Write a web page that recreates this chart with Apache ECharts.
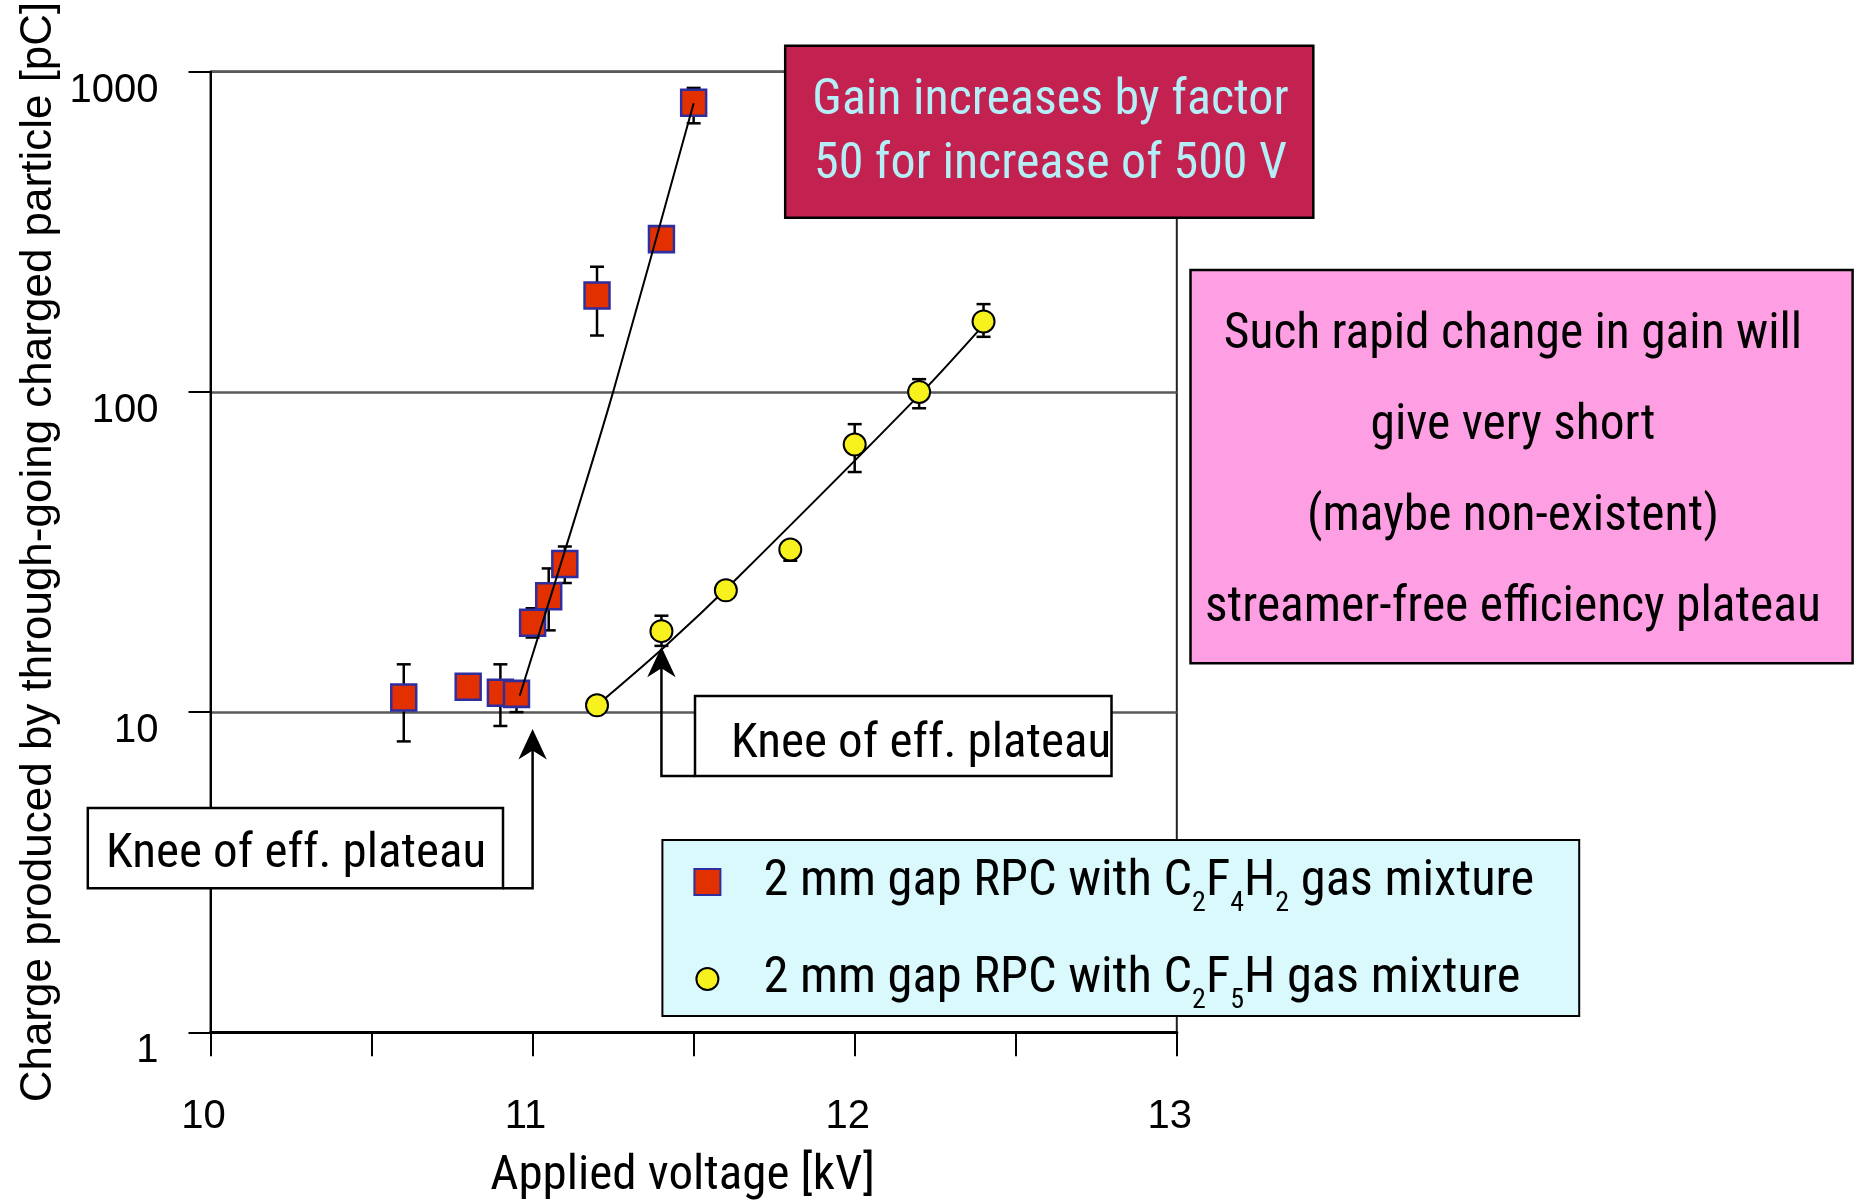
<!DOCTYPE html>
<html>
<head>
<meta charset="utf-8">
<script src="https://cdn.jsdelivr.net/npm/echarts@6/dist/echarts.min.js"></script>
<style>
  html, body { margin: 0; padding: 0; background: #fff; }
  #chart { width: 1855px; height: 1203px; }
</style>
</head>
<body>
<div id="chart"></div>
<script>
// C2F4H2 chamber: applied voltage [kV], mean charge [pC] and error-bar limits
const voltsA   = [10.6, 10.8, 10.9, 10.95, 11.0, 11.05, 11.1, 11.2, 11.4, 11.5];
const chargeA  = [11.1, 12.0, 11.5, 11.4, 19.0, 23.0, 29.0, 200, 300, 800];
const errLowA  = [8.1, null, 9.05, 10.0, 17.1, 18.0, 25.3, 150, null, 690];
const errHighA = [14.1, null, 14.1, 12.3, 21.1, 28.1, 32.9, 246, null, 890];

// C2F5H chamber
const voltsB   = [11.2, 11.4, 11.6, 11.8, 12.0, 12.2, 12.4];
const chargeB  = [10.5, 17.9, 24.0, 32.2, 68.5, 100, 166];
const errLowB  = [null, 16.1, null, 29.7, 56.2, 88.9, 148.6];
const errHighB = [null, 20.0, null, 34.0, 79.3, 109.6, 188];

// guide curves drawn through each data set
const fitVoltsA  = [10.96, 11.12, 11.25, 11.5];
const fitChargeA = [11.25, 37, 100, 797];
const fitVoltsB  = [11.19, 11.41, 11.63, 12.21, 12.41];
const fitChargeB = [10.3, 16.0, 25.9, 100, 166];

// knee of the efficiency plateau (arrow tips)
const kneeVolts  = [11.0, 11.4];
const kneeCharge = [8.85, 16.0];

// axis tick labels
const xTickLabels = ['10', '11', '12', '13'];
const yTickLabels = ['1', '10', '100', '1000'];

// legend entries
const seriesNames = ['2 mm gap RPC with C2F4H2 gas mixture', '2 mm gap RPC with C2F5H gas mixture'];
const legendRich  = ['2 mm gap RPC with C{s|2}F{s|4}H{s|2} gas mixture', '2 mm gap RPC with C{s|2}F{s|5}H gas mixture'];

const FONT_NARROW = "'Roboto Condensed', 'Liberation Sans', sans-serif";
const FONT_REG = "'Liberation Sans', Arial, Helvetica, sans-serif";

const pairs = (xs, ys) => xs.map((x, i) => [x, ys[i]]);
const bars = (xs, lo, hi) => xs.map((x, i) => [x, lo[i], hi[i]]).filter(d => d[1] != null && d[2] != null);

function renderErrorBar(params, api) {
  const x = api.value(0);
  const lo = api.coord([x, api.value(1)]);
  const hi = api.coord([x, api.value(2)]);
  const cap = 7;
  const style = { stroke: '#000', lineWidth: 2.5 };
  return {
    type: 'group',
    children: [
      { type: 'line', shape: { x1: hi[0], y1: hi[1], x2: lo[0], y2: lo[1] }, style },
      { type: 'line', shape: { x1: hi[0] - cap, y1: hi[1], x2: hi[0] + cap, y2: hi[1] }, style },
      { type: 'line', shape: { x1: lo[0] - cap, y1: lo[1], x2: lo[0] + cap, y2: lo[1] }, style }
    ]
  };
}

const CIRCLE_ICON = 'path://M0 0M26 26M2 13A11 11 0 1 0 24 13A11 11 0 1 0 2 13Z';

const chart = echarts.init(document.getElementById('chart'), null, { renderer: 'canvas' });

const option = {
  animation: false,
  backgroundColor: '#fff',
  grid: {
    left: 210.5, right: 678.2, top: 71.7, bottom: 170.7,
    show: true, borderColor: '#222', borderWidth: 2,
    containLabel: false, outerBoundsMode: 'none'
  },
  xAxis: {
    type: 'value', min: 10, max: 13, interval: 0.5,
    name: 'Applied voltage [kV]', nameLocation: 'middle', nameGap: 120, nameMoveOverlap: false,
    nameTextStyle: { fontFamily: FONT_NARROW, fontSize: 49, color: '#000', padding: [0, 22, 0, 0] },
    axisLine: { show: true, onZero: false, lineStyle: { color: '#000', width: 3 } },
    axisTick: { show: true, inside: false, length: 24, lineStyle: { color: '#000', width: 2 } },
    axisLabel: {
      show: true, margin: 65, fontFamily: FONT_REG, fontSize: 40, color: '#000',
      padding: [0, 14, 0, 0],
      formatter: v => (xTickLabels.includes(String(v)) ? String(v) : '')
    },
    splitLine: { show: false }
  },
  yAxis: {
    type: 'log', logBase: 10, min: 1, max: 1000,
    name: 'Charge produced by through-going charged particle [pC]',
    nameLocation: 'middle', nameRotate: 90, nameGap: 150, nameMoveOverlap: false,
    nameTextStyle: { fontFamily: FONT_REG, fontSize: 44, color: '#000' },
    axisLine: { show: true, lineStyle: { color: '#000', width: 2 } },
    axisTick: { show: true, length: 22, lineStyle: { color: '#000', width: 2 } },
    minorTick: { show: false },
    axisLabel: {
      margin: 52, fontFamily: FONT_REG, fontSize: 40, color: '#000',
      verticalAlign: 'top', lineHeight: 38,
      formatter: v => yTickLabels[Math.round(Math.log10(v))]
    },
    splitLine: { show: true, lineStyle: { color: '#5a5a5a', width: 2.5 } }
  },
  legend: {
    show: true, orient: 'vertical', left: 662.4, top: 840,
    padding: [6, 45, 1, 31], itemGap: 25, itemWidth: 26, itemHeight: 26,
    backgroundColor: '#D9F9FD', borderColor: '#000', borderWidth: 2, borderRadius: 0,
    selectedMode: false,
    data: [{ name: seriesNames[0], icon: 'rect' }, { name: seriesNames[1], icon: CIRCLE_ICON }],
    formatter: name => legendRich[seriesNames.indexOf(name)],
    textStyle: {
      fontFamily: FONT_NARROW, fontSize: 50.5, lineHeight: 72, color: '#000',
      padding: [0, 0, 0, 38],
      rich: { s: { fontFamily: FONT_NARROW, fontSize: 28, verticalAlign: 'bottom', color: '#000' } }
    }
  },
  series: [
    {
      name: 'fitB', type: 'line', data: pairs(fitVoltsB, fitChargeB), smooth: 0.3,
      symbol: 'none', silent: true, lineStyle: { color: '#000', width: 2 }, z: 1
    },
    {
      name: 'errA', type: 'custom', renderItem: renderErrorBar, silent: true,
      data: bars(voltsA, errLowA, errHighA), encode: { x: 0, y: [1, 2] }, z: 2
    },
    {
      name: 'errB', type: 'custom', renderItem: renderErrorBar, silent: true,
      data: bars(voltsB, errLowB, errHighB), encode: { x: 0, y: [1, 2] }, z: 2
    },
    {
      name: seriesNames[0], type: 'scatter', symbol: 'rect', symbolSize: [25, 26],
      data: pairs(voltsA, chargeA),
      itemStyle: { color: '#E33000', borderColor: '#2E2E9E', borderWidth: 2.5, opacity: 1 }, z: 3
    },
    {
      name: seriesNames[1], type: 'scatter', symbol: 'circle', symbolSize: 22,
      data: pairs(voltsB, chargeB),
      itemStyle: { color: '#F7F21E', borderColor: '#000', borderWidth: 2, opacity: 1 }, z: 3
    },
    {
      name: 'fitA', type: 'line', data: pairs(fitVoltsA, fitChargeA), smooth: 0.3,
      symbol: 'none', silent: true, lineStyle: { color: '#000', width: 2 }, z: 4
    }
  ]
};

chart.setOption(option);

// annotation boxes and knee arrows
const tips = kneeVolts.map((v, i) => chart.convertToPixel({ xAxisIndex: 0, yAxisIndex: 0 }, [v, kneeCharge[i]]));

function arrowHead(tip) {
  const [x, y] = tip;
  return {
    type: 'polygon', z: 102,
    shape: { points: [[x, y], [x + 14.2, y + 30.5], [x, y + 21.5], [x - 14.2, y + 30.5]] },
    style: { fill: '#000' }
  };
}

function box(x, y, w, h, fill) {
  return { type: 'rect', z: 100, shape: { x, y, width: w, height: h }, style: { fill, stroke: '#000', lineWidth: 2.5 } };
}

function label(x, y, text, opts) {
  return {
    type: 'text', z: 101, x, y,
    style: Object.assign({
      text, fontFamily: FONT_NARROW, fontSize: 50, fill: '#000',
      align: 'left', verticalAlign: 'middle'
    }, opts || {})
  };
}

const boxA = { x: 87.8, y: 808, w: 415.2, h: 80.3 };
const boxB = { x: 695, y: 696, w: 416.5, h: 80 };

chart.setOption({
  graphic: [
    // gain remark
    box(785.2, 45.7, 528.1, 172, '#C32150'),
    label(1050.5, 133, 'Gain increases by factor\n50 for increase of 500 V',
      { fill: '#B4EEF6', align: 'center', lineHeight: 64 }),
    // plateau remark
    box(1190.5, 270, 662.1, 393.3, '#FF9FE3'),
    label(1513, 472.5,
      'Such rapid change in gain will\ngive very short\n(maybe non-existent)\nstreamer-free efficiency plateau',
      { align: 'center', lineHeight: 91, fontSize: 49.5 }),
    // knee, C2F4H2
    {
      type: 'polyline', z: 99,
      shape: { points: [[boxA.x + boxA.w, boxA.y + boxA.h], [tips[0][0], boxA.y + boxA.h], [tips[0][0], tips[0][1] + 20]] },
      style: { stroke: '#000', lineWidth: 2.5, fill: null }
    },
    arrowHead(tips[0]),
    box(boxA.x, boxA.y, boxA.w, boxA.h, '#fff'),
    label(106, 854.5, 'Knee of eff. plateau', { fontSize: 49 }),
    // knee, C2F5H
    {
      type: 'polyline', z: 99,
      shape: { points: [[boxB.x, boxB.y + boxB.h], [tips[1][0], boxB.y + boxB.h], [tips[1][0], tips[1][1] + 20]] },
      style: { stroke: '#000', lineWidth: 2.5, fill: null }
    },
    arrowHead(tips[1]),
    box(boxB.x, boxB.y, boxB.w, boxB.h, '#fff'),
    label(731, 744.5, 'Knee of eff. plateau', { fontSize: 49 })
  ]
});
</script>
</body>
</html>
